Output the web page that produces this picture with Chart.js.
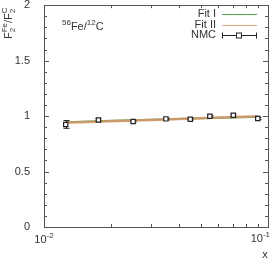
<!DOCTYPE html>
<html>
<head>
<meta charset="utf-8">
<script src="https://cdn.jsdelivr.net/npm/chart.js@4.4.0/dist/chart.umd.min.js"></script>
<style>
  html, body { margin: 0; padding: 0; background: #fff; }
  #wrap { width: 277px; height: 260px; }
</style>
</head>
<body>
<div id="wrap"><canvas id="chart" width="277" height="260"></canvas></div>
<script>
// Datos
const nmcX = [0.0125, 0.0175, 0.025, 0.035, 0.045, 0.055, 0.070, 0.090];
const nmcY = [0.925, 0.965, 0.952, 0.975, 0.972, 0.998, 1.008, 0.978];
const nmcErr = [0.035, 0.012, 0.008, 0.008, 0.008, 0.008, 0.010, 0.010];

const fitX = [0.0125, 0.02, 0.03, 0.05, 0.07, 0.09];
const fit1Y = [0.945, 0.957, 0.967, 0.980, 0.988, 0.994];
const fit2Y = [0.940, 0.953, 0.965, 0.981, 0.991, 0.998];

const yTicks = [0, 0.5, 1, 1.5, 2];
const xMinorTicks = [0.02, 0.03, 0.04, 0.05, 0.06, 0.07, 0.08, 0.09];

const FONT = '"Liberation Sans", Arial, sans-serif';
const TXT = '#333';
const AXIS = '#555';

function toPoints(xs, ys) {
    return xs.map((x, i) => ({ x: x, y: ys[i] }));
}

// Barras de error, ticks hacia dentro, textos y leyenda
const decorPlugin = {
    id: 'decor',
    beforeDatasetDraw(chart, args) {
        if (args.index !== 2) return;
        const c = chart.ctx;
        const xs = chart.scales.x, ys = chart.scales.y;
        c.save();
        c.strokeStyle = '#222';
        c.lineWidth = 1;
        nmcX.forEach((x, i) => {
            const px = Math.round(xs.getPixelForValue(x)) + 0.5;
            const y1 = ys.getPixelForValue(nmcY[i] - nmcErr[i]);
            const y2 = ys.getPixelForValue(nmcY[i] + nmcErr[i]);
            c.beginPath();
            c.moveTo(px, y1); c.lineTo(px, y2);
            c.moveTo(px - 3, y1); c.lineTo(px + 3, y1);
            c.moveTo(px - 3, y2); c.lineTo(px + 3, y2);
            c.stroke();
        });
        c.restore();
    },
    afterDraw(chart) {
        const c = chart.ctx;
        const a = chart.chartArea;
        const xs = chart.scales.x, ys = chart.scales.y;
        c.save();
        c.strokeStyle = AXIS;
        c.lineWidth = 1;
        // marco
        c.strokeRect(Math.round(a.left) + 0.5, Math.round(a.top) + 0.5,
            Math.round(a.right - a.left), Math.round(a.bottom - a.top));
        c.beginPath();
        // ticks eje y
        for (let k = 0; k <= 20; k++) {
            const py = Math.round(ys.getPixelForValue(k / 10)) + 0.5;
            const len = (k % 5 === 0) ? 5 : 3;
            c.moveTo(a.left, py); c.lineTo(a.left + len, py);
            c.moveTo(a.right, py); c.lineTo(a.right - len, py);
        }
        // ticks eje x
        xMinorTicks.forEach(v => {
            const px = Math.round(xs.getPixelForValue(v)) + 0.5;
            c.moveTo(px, a.bottom); c.lineTo(px, a.bottom - 3);
            c.moveTo(px, a.top); c.lineTo(px, a.top + 3);
        });
        c.stroke();

        c.fillStyle = TXT;
        c.textBaseline = 'alphabetic';
        // etiquetas eje x con exponente
        function powLabel(px, py, exp, align) {
            c.font = '11px ' + FONT;
            c.textAlign = 'left';
            const w = c.measureText('10').width;
            c.font = '8px ' + FONT;
            const w2 = c.measureText(exp).width;
            const x0 = align === 'right' ? px - (w + w2) : px - (w + w2) / 2;
            c.font = '11px ' + FONT;
            c.fillText('10', x0, py);
            c.font = '8px ' + FONT;
            c.fillText(exp, x0 + w, py - 5);
        }
        powLabel(xs.getPixelForValue(0.01), a.bottom + 16, '-2', 'center');
        powLabel(xs.getPixelForValue(0.1) + 2, a.bottom + 15, '-1', 'right');

        c.font = '11px ' + FONT;
        c.textAlign = 'center';
        c.fillText('x', a.right - 3, a.bottom + 31);

        // titulo eje y (rotado)
        c.save();
        c.translate(12, 39);
        c.rotate(-Math.PI / 2);
        c.textAlign = 'left';
        let cx = 0;
        const parts = [['F', 11, 0, 0], ['2', 8, 3, 0], ['Fe', 8, -5, 1], ['/F', 11, 0, 0], ['2', 8, 3, 0], ['C', 8, -5, 1]];
        let lastW = 0;
        parts.forEach(p => {
            c.font = p[1] + 'px ' + FONT;
            if (p[3]) cx -= lastW; // superindice sobre el subindice
            c.fillText(p[0], cx, p[2]);
            const w = c.measureText(p[0]).width;
            cx += p[3] ? Math.max(w, lastW) : w;
            lastW = w;
        });
        c.restore();

        // etiqueta 56Fe/12C
        c.textAlign = 'left';
        let lx = 62;
        const ly = 30;
        const lab = [['56', 8, -5], ['Fe/', 11, 0], ['12', 8, -5], ['C', 11, 0]];
        lab.forEach(p => {
            c.font = p[1] + 'px ' + FONT;
            c.fillText(p[0], lx, ly + p[2]);
            lx += c.measureText(p[0]).width;
        });

        // leyenda
        const ds = chart.data.datasets;
        const rows = [14, 24.5, 35];
        const sx1 = 222, sx2 = 257;
        ds.forEach((d, i) => {
            const ry = rows[i];
            c.font = '11px ' + FONT;
            c.textAlign = 'right';
            c.textBaseline = 'middle';
            c.fillStyle = TXT;
            c.fillText(d.label, 216, ry);
            const yy = Math.round(ry) + 0.5;
            if (i < 2) {
                c.strokeStyle = d.borderColor;
                c.lineWidth = 1;
                c.beginPath();
                c.moveTo(sx1, yy); c.lineTo(sx2, yy);
                c.stroke();
            } else {
                c.strokeStyle = '#222';
                c.lineWidth = 1;
                c.beginPath();
                c.moveTo(sx1, yy); c.lineTo(sx2, yy);
                c.moveTo(sx1 + 0.5, yy - 3); c.lineTo(sx1 + 0.5, yy + 3);
                c.moveTo(sx2 - 0.5, yy - 3); c.lineTo(sx2 - 0.5, yy + 3);
                c.stroke();
                c.fillStyle = '#fff';
                c.fillRect(236.5, yy - 2.5, 5, 5);
                c.strokeRect(236.5, yy - 2.5, 5, 5);
            }
        });
        c.restore();
    }
};

const ctx = document.getElementById('chart').getContext('2d');
window.fitChart = new Chart(ctx, {
    type: 'scatter',
    data: {
        datasets: [
            {
                label: 'Fit I',
                data: toPoints(fitX, fit1Y),
                showLine: true,
                borderColor: '#55a04c',
                borderWidth: 2,
                pointRadius: 0,
                order: 2
            },
            {
                label: 'Fit II',
                data: toPoints(fitX, fit2Y),
                showLine: true,
                borderColor: 'rgba(220, 150, 110, 0.85)',
                borderWidth: 2.5,
                pointRadius: 0,
                order: 1
            },
            {
                label: 'NMC',
                data: toPoints(nmcX, nmcY),
                showLine: false,
                pointStyle: 'rect',
                pointRadius: 3,
                pointBackgroundColor: '#fff',
                pointBorderColor: '#222',
                pointBorderWidth: 1.2,
                order: 0
            }
        ]
    },
    options: {
        responsive: false,
        animation: false,
        layout: { padding: { top: 4, right: 9, left: 0, bottom: 0 } },
        plugins: {
            legend: { display: false },
            tooltip: { enabled: false }
        },
        scales: {
            x: {
                type: 'logarithmic',
                min: 0.01,
                max: 0.1,
                grid: { display: false },
                border: { display: false },
                ticks: { display: false },
                afterFit: s => { s.height = 33; s.paddingLeft = 0; s.paddingRight = 0; }
            },
            y: {
                min: 0,
                max: 2,
                grid: { display: false },
                border: { display: false },
                afterBuildTicks: s => { s.ticks = yTicks.map(v => ({ value: v })); },
                ticks: {
                    color: TXT,
                    font: { family: FONT, size: 11 },
                    padding: 6,
                    callback: v => String(v)
                },
                afterFit: s => { s.width = 44; s.paddingTop = 0; s.paddingBottom = 0; }
            }
        }
    },
    plugins: [decorPlugin]
});
</script>
</body>
</html>
